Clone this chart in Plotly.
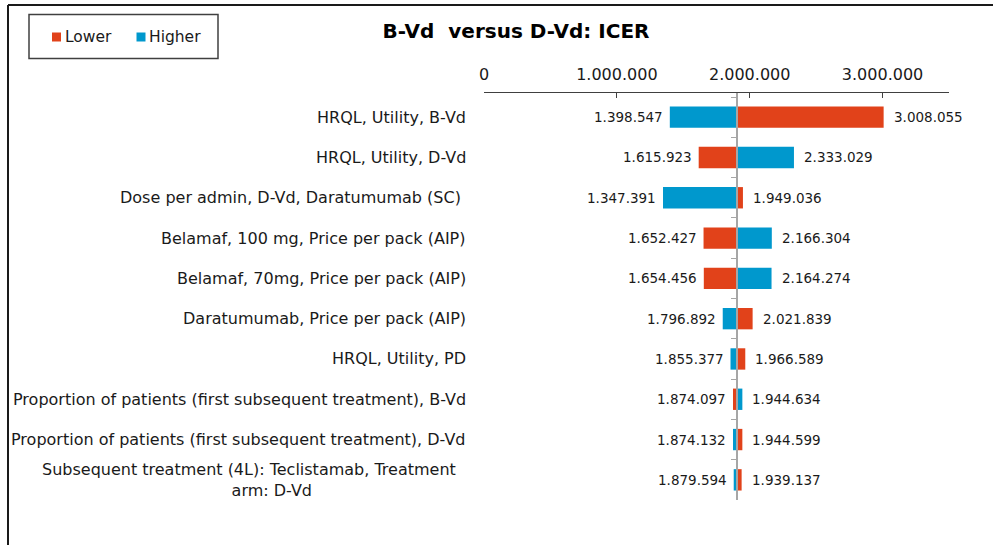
import plotly.graph_objects as go

categories = [
    "HRQL, Utility, B-Vd",
    "HRQL, Utility, D-Vd",
    "Dose per admin, D-Vd, Daratumumab (SC) ",
    "Belamaf, 100 mg, Price per pack (AIP)",
    "Belamaf, 70mg, Price per pack (AIP)",
    "Daratumumab, Price per pack (AIP)",
    "HRQL, Utility, PD",
    "Proportion of patients (first subsequent treatment), B-Vd",
    "Proportion of patients (first subsequent treatment), D-Vd",
    "Subsequent treatment (4L): Teclistamab, Treatment&nbsp;&nbsp;<br>&nbsp;&nbsp;&nbsp;&nbsp;&nbsp;&nbsp;&nbsp;arm: D-Vd",
]
lower_icer = [3008055, 1615923, 1949036, 1652427, 1654456, 2021839, 1966589, 1874097, 1944599, 1939137]
higher_icer = [1398547, 2333029, 1347391, 2166304, 2164274, 1796892, 1855377, 1944634, 1874132, 1879594]
base_icer = 1903000
x_ticks = [0, 1000000, 2000000, 3000000]
x_max = 3500000
series_names = ["Lower", "Higher"]

RED = "#E1421A"
BLUE = "#0098CD"
FONT = "DejaVu Sans"

W, H = 993, 545
ML, MR, MT, MB = 484, 44, 93, 45
pw = W - ML - MR
ph = H - MT - MB


def px_x(p):
    return (p - ML) / pw


def px_y(p):
    return (H - MB - p) / ph


def fmt(v):
    return f"{v:,}".replace(",", ".")


fig = go.Figure()
fig.add_trace(go.Bar(
    name=series_names[0], y=categories, x=[v - base_icer for v in lower_icer], base=base_icer,
    orientation="h", marker=dict(color=RED, line=dict(width=0)), width=0.53, showlegend=False,
))
fig.add_trace(go.Bar(
    name=series_names[1], y=categories, x=[v - base_icer for v in higher_icer], base=base_icer,
    orientation="h", marker=dict(color=BLUE, line=dict(width=0)), width=0.53, showlegend=False,
))
# invisible trace to carry the centre axis
fig.add_trace(go.Scatter(x=[base_icer] * len(categories), y=categories, yaxis="y2",
                         mode="none", showlegend=False, hoverinfo="skip"))

annotations = []
for cat, lo, hi in zip(categories, lower_icer, higher_icer):
    for v in (lo, hi):
        right = v >= base_icer
        annotations.append(dict(
            x=v, y=cat, xref="x", yref="y", text=fmt(v), showarrow=False,
            xanchor="left" if right else "right", xshift=8 if right else -5,
            font=dict(family=FONT, size=13.5, color="#1a1a1a"),
        ))
    annotations.append(dict(
        x=0, y=cat, xref="paper", yref="y", text=cat, showarrow=False,
        xanchor="right", xshift=-16, align="center",
        font=dict(family=FONT, size=16, color="#1a1a1a"),
    ))

# legend (drawn by hand to match the compact layout)
legend_items = [(series_names[0], RED, 52, 65), (series_names[1], BLUE, 136.5, 149)]
shapes = []
for name, col, sq_x, tx_x in legend_items:
    shapes.append(dict(type="rect", xref="paper", yref="paper",
                       x0=px_x(sq_x), x1=px_x(sq_x + 9), y0=px_y(32.5), y1=px_y(41.5),
                       fillcolor=col, line=dict(width=0)))
    annotations.append(dict(x=px_x(tx_x - 2), y=px_y(37.5), xref="paper", yref="paper",
                            text=name, showarrow=False, xanchor="left", yanchor="middle",
                            font=dict(family=FONT, size=15.5, color="#1a1a1a")))

shapes += [
    # chart border (top and left)
    dict(type="line", xref="paper", yref="paper",
         x0=px_x(8), x1=px_x(W + 5), y0=px_y(5), y1=px_y(5),
         line=dict(color="#1a1a1a", width=2)),
    dict(type="line", xref="paper", yref="paper",
         x0=px_x(8), x1=px_x(8), y0=px_y(5), y1=px_y(H + 5),
         line=dict(color="#1a1a1a", width=2)),
    # legend box
    dict(type="rect", xref="paper", yref="paper",
         x0=px_x(29), x1=px_x(218), y0=px_y(14.5), y1=px_y(58.5),
         line=dict(color="#404040", width=1.5)),
]

fig.update_layout(
    width=W, height=H,
    margin=dict(l=ML, r=MR, t=MT, b=MB),
    paper_bgcolor="white", plot_bgcolor="white",
    separators=",.",
    barmode="overlay",
    showlegend=False,
    title=dict(text="<b>B-Vd  versus D-Vd: ICER</b>", x=516 / W, xanchor="center",
               y=1 - 31 / H, yanchor="middle", xref="container", yref="container",
               font=dict(family=FONT, size=20, color="#000000")),
    xaxis=dict(side="top", range=[0, x_max], tickvals=x_ticks, tickformat=",d",
               showgrid=False, zeroline=False, showline=True, linecolor="#404040", linewidth=1,
               ticks="inside", ticklen=5, tickcolor="#404040", ticklabelstandoff=6,
               tickfont=dict(family=FONT, size=16, color="#1a1a1a")),
    yaxis=dict(type="category", categoryarray=categories, range=[9.5, -0.6],
               showticklabels=False, showgrid=False, zeroline=False, showline=False, ticks=""),
    yaxis2=dict(type="category", categoryarray=categories, range=[9.5, -0.6], overlaying="y",
                anchor="free", position=base_icer / x_max, side="left",
                showticklabels=False, showgrid=False, zeroline=False,
                showline=True, linecolor="#A6A6A6", linewidth=1.5,
                ticks="outside", ticklen=5, tickcolor="#A6A6A6", tickson="boundaries"),
    annotations=annotations,
    shapes=shapes,
)

fig.write_html("out.html", config={"displayModeBar": False},
               post_script="document.body.style.margin='0';")
